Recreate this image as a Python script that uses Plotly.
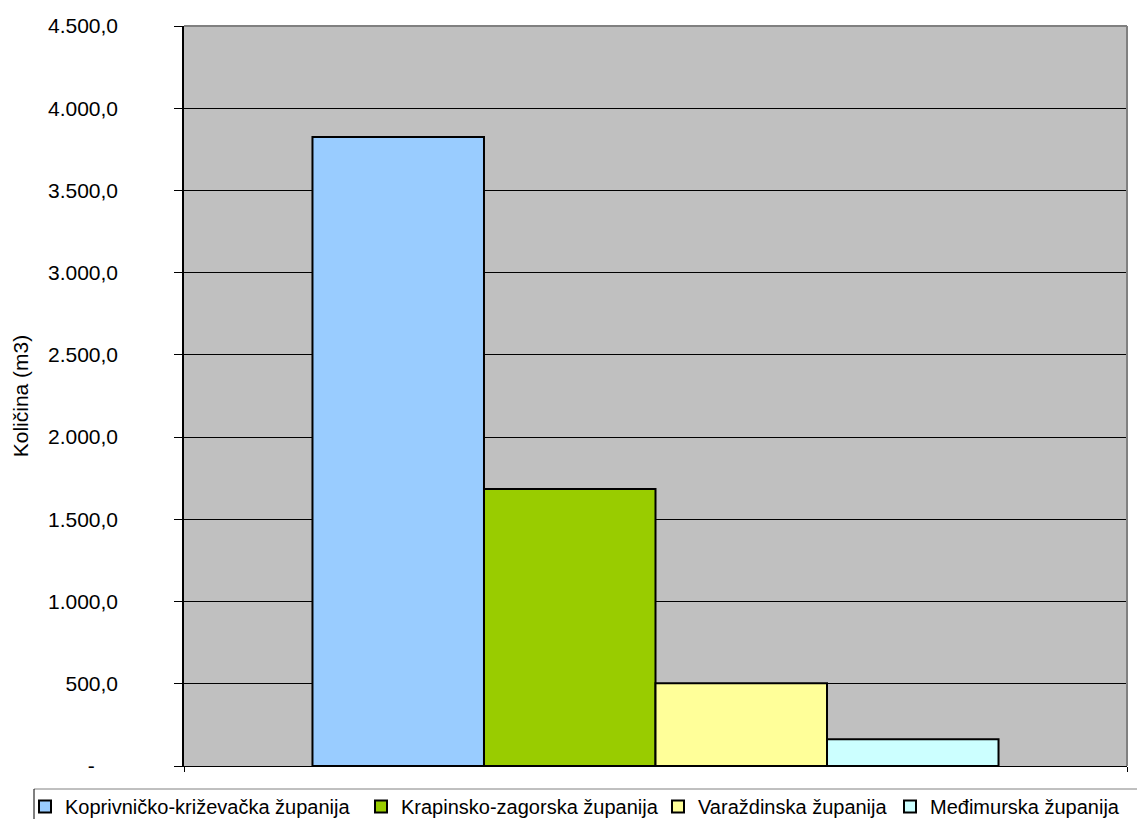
import plotly.graph_objects as go

W, H = 1137, 819

counties = ["Koprivničko-križevačka županija", "Krapinsko-zagorska županija",
            "Varaždinska županija", "Međimurska županija"]
values = [3825.0, 1684.0, 503.0, 162.0]
colors = ["#99CCFF", "#99CC00", "#FFFF99", "#CCFFFF"]
legend_widths = [291, 252, 187, 205]

tick_vals = [0, 500, 1000, 1500, 2000, 2500, 3000, 3500, 4000, 4500]
tick_text = ["-\u00a0\u00a0\u00a0\u00a0", "500,0", "1.000,0", "1.500,0", "2.000,0", "2.500,0",
             "3.000,0", "3.500,0", "4.000,0", "4.500,0"]
y_title = "Količina (m3)"
category = ["Županije"]

FONT = "Arial, 'Liberation Sans', sans-serif"

fig = go.Figure()
for name, v, c, lw in zip(counties, values, colors, legend_widths):
    fig.add_trace(go.Bar(
        x=category, y=[v], name=name,
        marker=dict(color=c, line=dict(color="#000000", width=2)),
        legendwidth=lw,
    ))

plot_l, plot_r, plot_t, plot_b = 184, 1127, 26, 766

fig.update_layout(
    width=W, height=H, autosize=False,
    margin=dict(l=0, r=0, t=0, b=0, autoexpand=False),
    paper_bgcolor="#FFFFFF",
    plot_bgcolor="#C0C0C0",
    barmode="group", bargap=0.2725, bargroupgap=0,
    font=dict(family=FONT, size=21, color="#000000"),
    showlegend=True,
    legend=dict(
        orientation="h",
        x=25 / W, xanchor="left",
        y=(H - 787) / H, yanchor="top",
        bgcolor="rgba(0,0,0,0)", borderwidth=0,
        font=dict(family=FONT, size=20, color="#000000"),
        itemwidth=30,
        traceorder="normal",
    ),
    xaxis=dict(
        domain=[plot_l / W, plot_r / W],
        showticklabels=False,
        showgrid=False, zeroline=False,
        showline=True, linecolor="#000000", linewidth=1,
        ticks="outside", tickson="boundaries", ticklen=5, tickcolor="#000000",
    ),
    yaxis=dict(
        domain=[(H - plot_b) / H, (H - plot_t) / H],
        range=[0, 4500],
        tickmode="array", tickvals=tick_vals, ticktext=tick_text,
        showgrid=True, gridcolor="#000000", gridwidth=1,
        zeroline=False,
        showline=True, linecolor="#000000", linewidth=1.5,
        ticks="outside", ticklen=8, tickcolor="#000000",
        ticklabelstandoff=52,
        tickfont=dict(family=FONT, size=21),
        title=dict(text=y_title, font=dict(family=FONT, size=21), standoff=14),
    ),
    shapes=[
        dict(type="line", xref="x domain", yref="y domain", x0=0, x1=1, y0=1, y1=1,
             line=dict(color="#808080", width=2)),
        dict(type="line", xref="x domain", yref="y domain", x0=1, x1=1, y0=0, y1=1,
             line=dict(color="#808080", width=2)),
        dict(type="line", xref="paper", yref="paper", x0=34 / W, x1=1.05,
             y0=(H - 789) / H, y1=(H - 789) / H, line=dict(color="#808080", width=1)),
        dict(type="line", xref="paper", yref="paper", x0=34 / W, x1=34 / W,
             y0=(H - 789) / H, y1=-0.1, line=dict(color="#000000", width=1)),
    ],
)

fig.write_html("out.html", config=dict(displayModeBar=False))
